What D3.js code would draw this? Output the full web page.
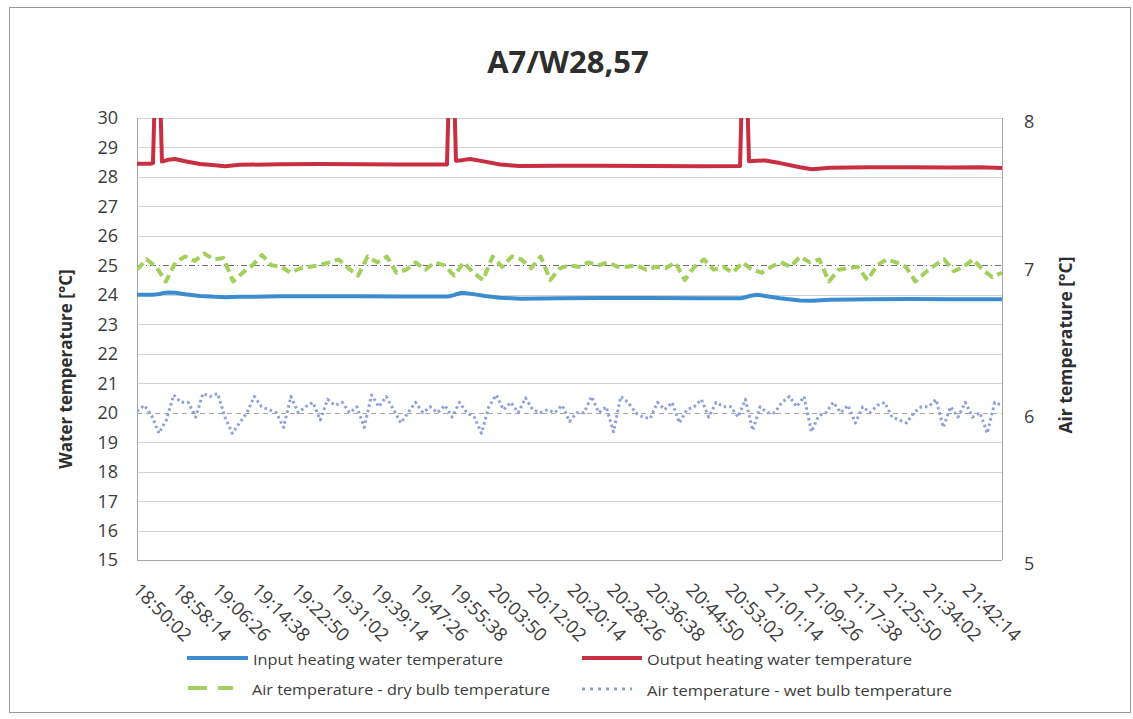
<!DOCTYPE html>
<html><head><meta charset="utf-8">
<script src="https://cdn.jsdelivr.net/npm/d3@7"></script>
<style>body{margin:0;background:#fff}svg{display:block}</style>
</head><body><svg id="c" width="1133" height="719"></svg>
<script>
const chartTitle = "A7/W28,57";
const leftAxisTitle = "Water temperature [°C]";
const rightAxisTitle = "Air temperature [°C]";
const xTickLabels = ["18:50:02","18:58:14","19:06:26","19:14:38","19:22:50","19:31:02","19:39:14","19:47:26","19:55:38","20:03:50","20:12:02","20:20:14","20:28:26","20:36:38","20:44:50","20:53:02","21:01:14","21:09:26","21:17:38","21:25:50","21:34:02","21:42:14"];
const waterTicks = [15,16,17,18,19,20,21,22,23,24,25,26,27,28,29,30];
const airTicks = [5,6,7,8];
const timeStart = "18:50:02";
const timeEnd = "21:49:36";
const seriesNames = ["Input heating water temperature","Output heating water temperature","Air temperature - dry bulb temperature","Air temperature - wet bulb temperature"];

const waterTimes = ["18:50:02","18:52:44","18:53:21","18:53:46","18:54:48","18:55:13","18:56:28","18:57:55","19:00:00","19:03:07","19:06:14","19:08:18","19:11:25","19:19:43","19:28:01","19:36:20","19:44:38","19:54:23","19:54:48","19:55:51","19:56:15","19:57:30","19:59:10","20:02:17","20:05:24","20:09:33","20:17:51","20:26:09","20:36:32","20:46:55","20:55:13","20:55:38","20:56:40","20:57:05","20:58:45","21:00:24","21:03:31","21:07:40","21:10:10","21:13:54","21:22:12","21:30:30","21:38:49","21:45:02","21:49:36"];
const inputWater = [24.00,24.00,24.00,24.01,24.03,24.05,24.08,24.07,24.02,23.96,23.93,23.92,23.93,23.95,23.95,23.95,23.94,23.94,23.95,23.99,24.02,24.07,24.04,23.96,23.90,23.87,23.88,23.89,23.89,23.88,23.88,23.89,23.93,23.96,24.00,23.96,23.88,23.81,23.80,23.83,23.85,23.86,23.85,23.85,23.85];
const outputWater = [28.45,28.45,28.47,31.0,31.0,28.52,28.58,28.61,28.53,28.44,28.40,28.36,28.41,28.43,28.44,28.43,28.42,28.42,31.0,31.0,28.55,28.57,28.61,28.52,28.42,28.37,28.38,28.38,28.37,28.36,28.37,31.0,31.0,28.53,28.55,28.56,28.47,28.33,28.26,28.31,28.33,28.33,28.32,28.33,28.30];

const drySampleSeconds = 119.7;
const dryBulb = [6.97,7.04,6.99,6.89,7.02,7.06,7.03,7.08,7.04,7.05,6.89,6.95,7.00,7.07,7.00,6.99,6.95,6.98,6.99,7.00,7.02,7.04,6.98,6.93,7.06,7.02,7.06,6.95,6.97,7.02,6.97,7.02,7.00,6.93,7.02,6.95,6.90,7.06,6.99,7.06,7.04,6.98,7.06,6.90,6.98,
7.00,6.99,7.02,7.00,7.02,6.99,6.99,7.00,6.97,6.99,6.98,7.02,6.90,6.99,7.04,6.97,6.99,6.95,7.02,6.97,6.95,6.99,7.02,6.99,7.06,7.02,7.04,6.89,6.97,6.98,6.99,6.90,7.00,7.04,7.02,6.99,6.89,6.95,7.00,7.04,6.96,6.99,7.04,6.97,6.92,6.95];

const wetSampleSeconds = 91.3;
const wetBulb = [6.01,6.05,5.98,5.86,5.95,6.12,6.07,6.07,5.97,6.13,6.11,6.13,5.97,5.86,5.93,6.00,6.11,6.04,6.02,6.00,5.90,6.11,6.00,6.04,6.07,5.95,6.09,6.05,6.07,6.00,6.04,5.90,6.12,6.04,6.11,6.02,5.93,6.00,6.07,6.00,6.04,6.00,6.05,5.97,6.07,6.00,5.97,5.86,6.04,6.12,6.02,6.07,6.00,6.10,6.02,6.00,6.02,6.00,6.05,5.94,6.00,
6.00,6.11,6.00,6.04,5.87,6.11,6.07,6.00,5.97,5.96,6.07,6.02,6.07,5.93,6.02,6.04,6.09,5.97,6.07,6.04,6.04,5.97,6.09,5.88,6.04,6.00,6.00,6.07,6.11,6.04,6.11,5.87,5.98,6.00,6.07,6.00,6.05,5.93,6.04,6.00,6.05,6.07,5.97,5.95,5.93,6.00,6.04,6.04,6.09,5.90,6.04,5.97,6.07,5.97,6.00,5.86,6.07,6.05];

const colors = {input:"#3b8dcf", output:"#c92f42", dry:"#a3cf5c", wet:"#8d9fdb"};

const toSec = s => { const [h,m,x] = s.split(":").map(Number); return h*3600+m*60+x; };
const t0 = toSec(timeStart);
const rel = s => toSec(s) - t0;

const svg = d3.select("#c");
const plot = {left:137, right:1002, top:118, bottom:560};
const font = "'Open Sans', 'Noto Sans', sans-serif";

svg.append("rect").attr("x",9.5).attr("y",7.5).attr("width",1121).attr("height",705)
  .attr("fill","#fff").attr("stroke","#9a9a9a").attr("stroke-width",1);

const x = d3.scaleLinear().domain([0, rel(timeEnd)]).range([plot.left, plot.right]);
const yW = d3.scaleLinear().domain([15,30]).range([plot.bottom, plot.top]);
const yA = d3.scaleLinear().domain([5,8]).range([plot.bottom, plot.top]);

// gridlines
svg.append("g").selectAll("line").data(waterTicks.filter(d=>d>15)).join("line")
  .attr("x1",plot.left).attr("x2",plot.right)
  .attr("y1",d=>Math.round(yW(d))+0.5).attr("y2",d=>Math.round(yW(d))+0.5)
  .attr("stroke",d=> d===25 ? "#6f6f6f" : d===20 ? "#a8a8a8" : "#d4d4d4")
  .attr("stroke-dasharray",d=> d===25 ? "6,3,1,3" : d===20 ? "5,4" : null)
  .attr("stroke-width",1);

// axes lines
const axG = svg.append("g").attr("stroke","#a6a6a6").attr("stroke-width",1);
axG.append("line").attr("x1",plot.left+0.5).attr("x2",plot.left+0.5).attr("y1",plot.top).attr("y2",plot.bottom);
axG.append("line").attr("x1",plot.right+0.5).attr("x2",plot.right+0.5).attr("y1",plot.top).attr("y2",plot.bottom);
axG.append("line").attr("x1",plot.left).attr("x2",plot.right).attr("y1",plot.bottom+0.5).attr("y2",plot.bottom+0.5);

// left tick labels
svg.append("g").selectAll("text").data(waterTicks).join("text")
  .attr("x",plot.left-19).attr("y",d=>yW(d)).attr("dy","0.36em")
  .attr("text-anchor","end").attr("font-family",font).attr("font-size",18)
  .attr("fill","#3c3c3c").text(d=>d);

// right tick labels
svg.append("g").selectAll("text").data(airTicks).join("text")
  .attr("x",plot.right+22).attr("y",d=>yA(d)+4).attr("dy","0.36em")
  .attr("text-anchor","start").attr("font-family",font).attr("font-size",18)
  .attr("fill","#3c3c3c").text(d=>d);

// x tick labels
svg.append("g").selectAll("text").data(xTickLabels).join("text")
  .attr("transform",d=>`translate(${x(rel(d))-5},591) rotate(45)`)
  .attr("text-anchor","start").attr("font-family",font).attr("font-size",18.5)
  .attr("fill","#3c3c3c").text(d=>d);

// titles
svg.append("text").attr("x",568).attr("y",73).attr("text-anchor","middle")
  .attr("font-family",font).attr("font-weight","bold").attr("font-size",31)
  .attr("fill","#2e2e2e").text(chartTitle);
svg.append("text").attr("transform","translate(72,369) rotate(-90)").attr("text-anchor","middle")
  .attr("font-family",font).attr("font-weight","bold").attr("font-size",17)
  .attr("fill","#2e2e2e").text(leftAxisTitle);
svg.append("text").attr("transform","translate(1072,345) rotate(-90)").attr("text-anchor","middle")
  .attr("font-family",font).attr("font-weight","bold").attr("font-size",17.5)
  .attr("fill","#2e2e2e").text(rightAxisTitle);

// clip
svg.append("clipPath").attr("id","pc").append("rect")
  .attr("x",plot.left).attr("y",plot.top).attr("width",plot.right-plot.left).attr("height",plot.bottom-plot.top);
const series = svg.append("g").attr("clip-path","url(#pc)");

const waterLine = d3.line().x((d,i)=>x(rel(waterTimes[i]))).y(d=>yW(d));
series.append("path").datum(inputWater).attr("d",waterLine)
  .attr("fill","none").attr("stroke",colors.input).attr("stroke-width",4).attr("stroke-linejoin","round");
series.append("path").datum(outputWater).attr("d",waterLine)
  .attr("fill","none").attr("stroke",colors.output).attr("stroke-width",4).attr("stroke-linejoin","round");

const dryLine = d3.line().x((d,i)=>x(i*drySampleSeconds)).y(d=>yA(d));
series.append("path").datum(dryBulb).attr("d",dryLine)
  .attr("fill","none").attr("stroke",colors.dry).attr("stroke-width",4)
  .attr("stroke-dasharray","9,5").attr("stroke-linejoin","round");

const wetLine = d3.line().x((d,i)=>x(i*wetSampleSeconds)).y(d=>yA(d));
series.append("path").datum(wetBulb).attr("d",wetLine)
  .attr("fill","none").attr("stroke",colors.wet).attr("stroke-width",3)
  .attr("stroke-dasharray","2.5,3").attr("stroke-linejoin","round");

// legend
const legend = [
  {name:seriesNames[0], color:colors.input, dash:null, w:4, x1:187, x2:248, y:658, tx:253, tw:250},
  {name:seriesNames[1], color:colors.output, dash:null, w:4, x1:582, x2:642, y:658, tx:647, tw:265},
  {name:seriesNames[2], color:colors.dry, dash:"19,11", w:4, x1:188, x2:233, y:688, tx:252, tw:298},
  {name:seriesNames[3], color:colors.wet, dash:"3,5", w:3, x1:582, x2:632, y:689, tx:647, tw:305}
];
const lg = svg.append("g").selectAll("g").data(legend).join("g");
lg.append("line").attr("x1",d=>d.x1).attr("x2",d=>d.x2).attr("y1",d=>d.y).attr("y2",d=>d.y)
  .attr("stroke",d=>d.color).attr("stroke-width",d=>d.w).attr("stroke-dasharray",d=>d.dash);
lg.append("text").attr("x",d=>d.tx).attr("y",d=>d.y+2).attr("dy","0.35em")
  .attr("font-family",font).attr("font-size",15).attr("fill","#3c3c3c")
  .attr("textLength",d=>d.tw).attr("lengthAdjust","spacingAndGlyphs").text(d=>d.name);
</script></body></html>
